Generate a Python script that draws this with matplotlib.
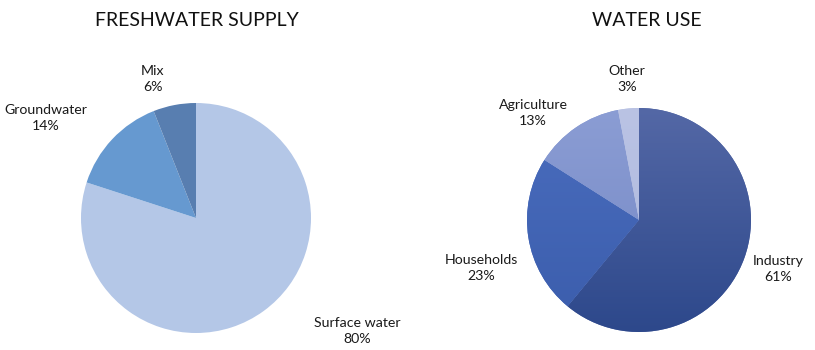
import numpy as np
import matplotlib
matplotlib.use("Agg")
from matplotlib import pyplot as plt
from matplotlib.colors import LinearSegmentedColormap

plt.rcParams['font.family'] = ['Lato', 'DejaVu Sans']

# data
supply_labels = ['Surface water', 'Groundwater', 'Mix']
supply_values = [80, 14, 6]
use_labels = ['Industry', 'Households', 'Agriculture', 'Other']
use_values = [61, 23, 13, 3]

# styles
supply_colors = ['#B4C7E7', '#6699D0', '#587EB0']
# (top, bottom) colours for the gradient wedges
use_colors = [('#5468A6', '#2D488B'), ('#4A6DBE', '#3B5DAC'),
              ('#8B9DD4', '#7487C4'), ('#BAC3E4', '#ADB8DE')]

# layout, figure pixels (y from bottom)
W, H = 815, 350
left_c, left_r = (196, 132), 115
right_c, right_r = (639, 130), 112
supply_label_pos = [(357, 19), (46, 232), (153, 271)]
use_label_pos = [(778, 81), (481, 82), (533, 237), (627, 271)]

fig = plt.figure(figsize=(W / 100, H / 100), dpi=100)
ax = fig.add_axes([0, 0, 1, 1])

lab_kw = dict(ha='center', va='center', fontsize=10.2, color='#1a1a1a',
              linespacing=1.45)

# left pie
wedges, _ = ax.pie(supply_values, colors=supply_colors, startangle=90,
                   counterclock=False, center=left_c, radius=left_r,
                   wedgeprops=dict(linewidth=0), frame=True)
for lab, v, (x, y) in zip(supply_labels, supply_values, supply_label_pos):
    ax.text(x, y, '%s\n%d%%' % (lab, v), **lab_kw)

# right pie with vertical gradient in each wedge
wedges2, _ = ax.pie(use_values, colors=[c[0] for c in use_colors],
                    startangle=90, counterclock=False, center=right_c,
                    radius=right_r, wedgeprops=dict(linewidth=0), frame=True)
grad = np.linspace(1, 0, 256).reshape(-1, 1)
ext = [right_c[0] - right_r, right_c[0] + right_r,
       right_c[1] - right_r, right_c[1] + right_r]
for w, (top, bot) in zip(wedges2, use_colors):
    cm = LinearSegmentedColormap.from_list('g', [bot, top])
    im = ax.imshow(grad, cmap=cm, extent=ext, aspect='auto',
                   origin='upper', zorder=w.get_zorder() + 0.1)
    im.set_clip_path(w)
for lab, v, (x, y) in zip(use_labels, use_values, use_label_pos):
    ax.text(x, y, '%s\n%d%%' % (lab, v), **lab_kw)

ax.set_xlim(0, W)
ax.set_ylim(0, H)
ax.set_aspect('equal')
ax.axis('off')

ax.text(197, 329, 'FRESHWATER SUPPLY', ha='center', va='center',
        fontsize=14, color='#111111')
ax.text(647, 329, 'WATER USE', ha='center', va='center',
        fontsize=14, color='#111111')

fig.savefig('out.png', dpi=100)
